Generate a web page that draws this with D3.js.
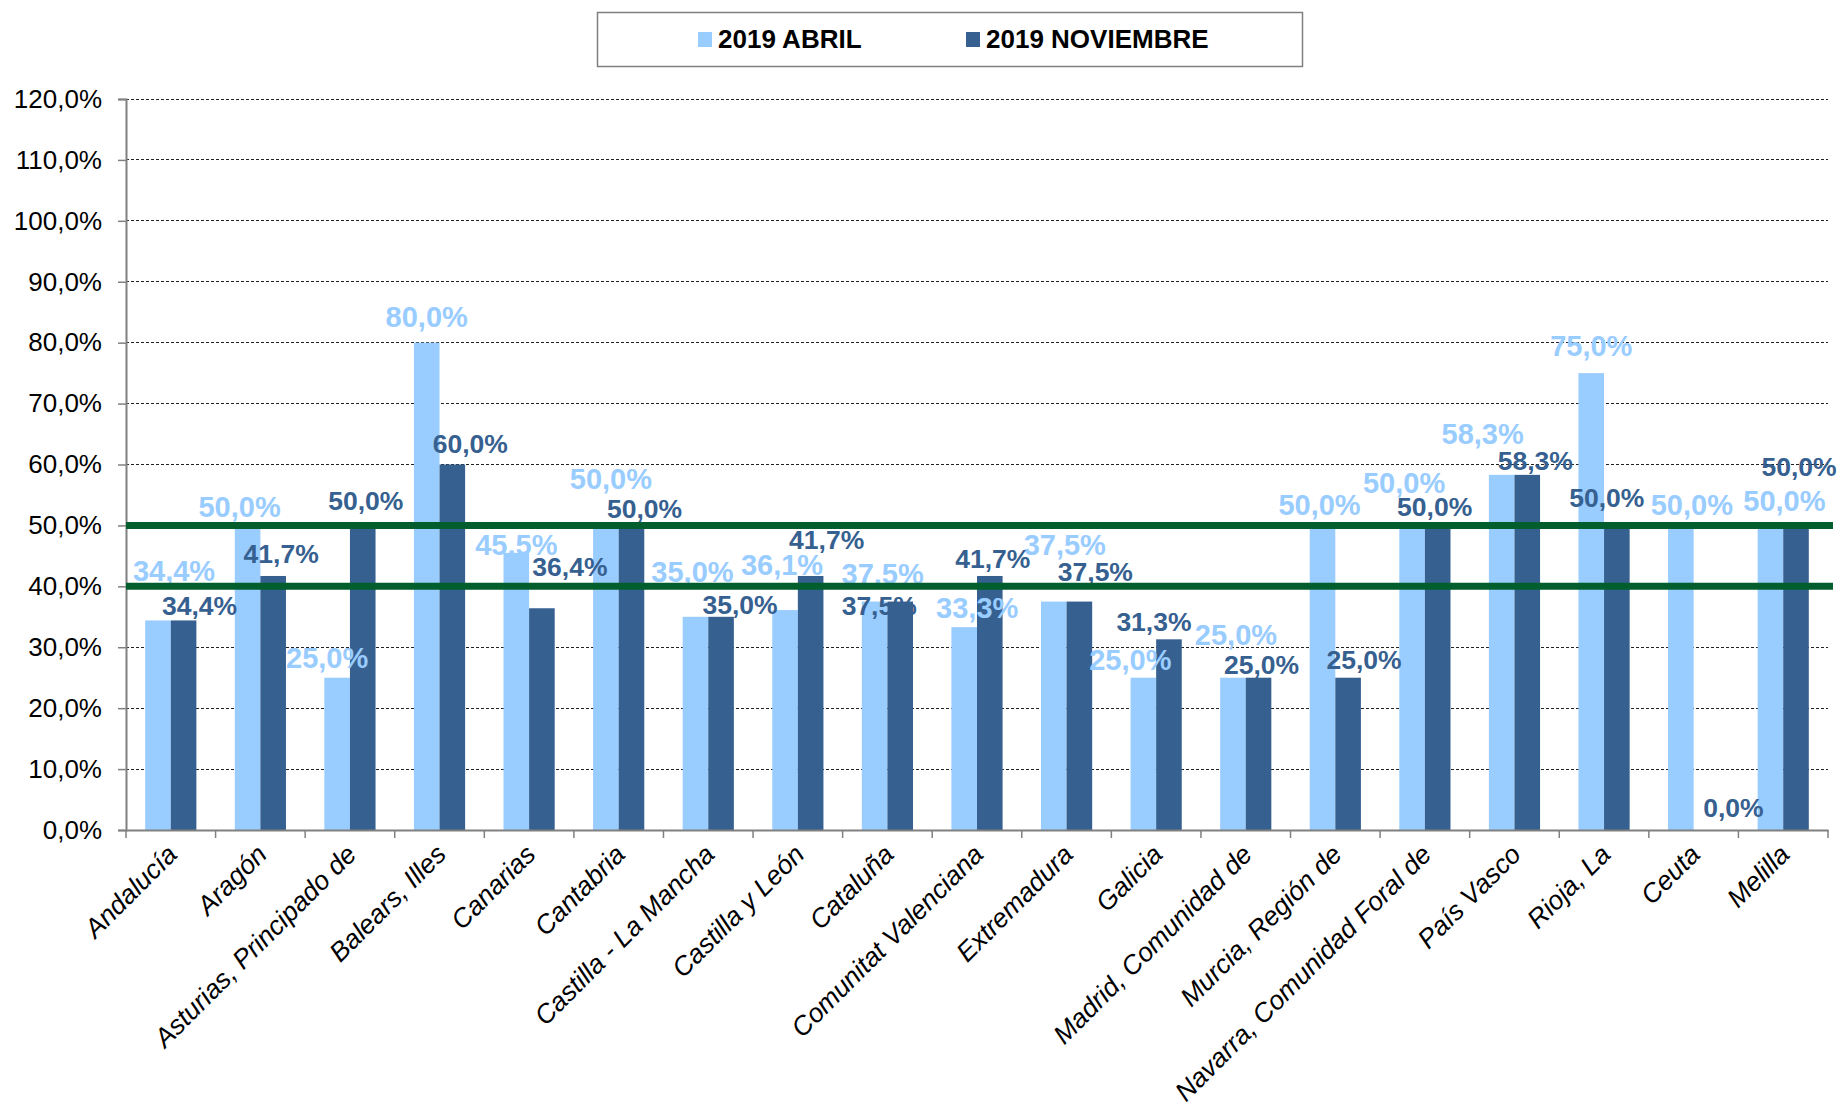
<!DOCTYPE html>
<html>
<head>
<meta charset="utf-8">
<script src="https://cdn.jsdelivr.net/npm/d3@7"></script>
<style>
  html, body { margin: 0; padding: 0; background: #fff; }
  svg { display: block; font-family: "Liberation Sans", Arial, sans-serif; }
</style>
</head>
<body>
<svg id="chart" width="1841" height="1109"></svg>
<script>
// ---- data ----
const categories = [
  "Andalucía", "Aragón", "Asturias, Principado de", "Balears, Illes", "Canarias",
  "Cantabria", "Castilla - La Mancha", "Castilla y León", "Cataluña",
  "Comunitat Valenciana", "Extremadura", "Galicia", "Madrid, Comunidad de",
  "Murcia, Región de", "Navarra, Comunidad Foral de", "País Vasco", "Rioja, La",
  "Ceuta", "Melilla"
];
const seriesNames = ["2019 ABRIL", "2019 NOVIEMBRE"];
const abril = [34.4, 50.0, 25.0, 80.0, 45.5, 50.0, 35.0, 36.1, 37.5, 33.3, 37.5, 25.0, 25.0, 50.0, 50.0, 58.3, 75.0, 50.0, 50.0];
const noviembre = [34.4, 41.7, 50.0, 60.0, 36.4, 50.0, 35.0, 41.7, 37.5, 41.7, 37.5, 31.3, 25.0, 25.0, 50.0, 58.3, 50.0, 0.0, 50.0];
const yTickValues = [0, 10, 20, 30, 40, 50, 60, 70, 80, 90, 100, 110, 120];
const referenceLines = [40, 50];

// ---- layout (label nudges relative to bar top/center, px) ----
const abrilNudge = [[16,-39],[-8,-8],[-10,-10],[0,-16],[0,2],[5,-36],[-3,-35],[-3,-35],[8,-18],[13,-9],[11,-47],[-13,-8],[3,-33],[-3,-10],[-8,-32],[-19,-31],[0,-17],[11,-10],[14,-14]];
const novNudge = [[16,-5],[8,-13],[3,-15],[18,-12],[28,-32],[13,-7],[19,-3],[16,-27],[-21,13],[3,-8],[16,-21],[-15,-8],[3,-4],[16,-9],[-3,-9],[8,-5],[-10,-18],[27,-13],[3,-49]];

const colors = ["#99CCFF", "#36608F"];
const margin = { left: 126, right: 1828, top: 99, bottom: 830 };

const svg = d3.select("#chart");

const x = d3.scaleBand().domain(categories).range([margin.left, margin.right]).paddingInner(0).paddingOuter(0);
const xSub = d3.scaleBand().domain([0, 1]).range([0, x.bandwidth()]).paddingInner(0).paddingOuter(0.75);
const y = d3.scaleLinear().domain([0, 120]).range([margin.bottom, margin.top]);

const fmt = v => d3.format(".1f")(v).replace(".", ",") + "%";

// gridlines
svg.append("g")
  .selectAll("line")
  .data(yTickValues.filter(d => d > 0))
  .join("line")
  .attr("x1", margin.left).attr("x2", margin.right)
  .attr("y1", d => y(d)).attr("y2", d => y(d))
  .attr("stroke", "#222").attr("stroke-width", 1)
  .attr("stroke-dasharray", "3,2")
  .attr("shape-rendering", "crispEdges");

// bars
const series = [abril, noviembre];
const nudges = [abrilNudge, novNudge];
series.forEach((vals, s) => {
  svg.append("g")
    .selectAll("rect")
    .data(vals)
    .join("rect")
    .attr("x", (d, i) => x(categories[i]) + xSub(s))
    .attr("width", xSub.bandwidth())
    .attr("y", d => y(d))
    .attr("height", d => y(0) - y(d))
    .attr("fill", colors[s]);
});

// y axis
const yAxis = svg.append("g")
  .attr("transform", `translate(${margin.left},0)`)
  .call(d3.axisLeft(y).tickValues(yTickValues).tickSize(8).tickPadding(16).tickFormat(fmt));
yAxis.select(".domain").attr("stroke", "#808080").attr("stroke-width", 2);
yAxis.selectAll(".tick line").attr("stroke", "#808080").attr("stroke-width", 1.5);
yAxis.selectAll(".tick text")
  .attr("font-family", "'Liberation Sans', Arial, sans-serif")
  .attr("font-size", 26).attr("fill", "#000");

// x axis
const xAxis = svg.append("g")
  .attr("transform", `translate(0,${margin.bottom})`)
  .call(d3.axisBottom(x).tickSize(0).tickFormat(""));
xAxis.select(".domain").attr("stroke", "#808080").attr("stroke-width", 2);
const boundaries = categories.map(c => x(c)).concat([margin.right]);
svg.append("g").selectAll("line").data(boundaries).join("line")
  .attr("x1", d => d).attr("x2", d => d)
  .attr("y1", margin.bottom).attr("y2", margin.bottom + 8)
  .attr("stroke", "#808080").attr("stroke-width", 1.5);

svg.append("g").selectAll("text").data(categories).join("text")
  .attr("transform", d => `translate(${x(d) + x.bandwidth() / 2 + 8},${margin.bottom + 26}) rotate(-45)`)
  .attr("text-anchor", "end")
  .attr("font-style", "italic")
  .attr("font-size", 26.5)
  .attr("fill", "#000")
  .text(d => d);

// value labels
series.forEach((vals, s) => {
  svg.append("g")
    .selectAll("text")
    .data(vals)
    .join("text")
    .attr("x", (d, i) => x(categories[i]) + xSub(s) + xSub.bandwidth() / 2 + nudges[s][i][0])
    .attr("y", (d, i) => y(d) + nudges[s][i][1])
    .attr("text-anchor", "middle")
    .attr("font-weight", "bold")
    .attr("font-size", s === 0 ? 29 : 26.5)
    .attr("fill", colors[s])
    .text(d => fmt(d));
});

// reference lines
svg.append("g").selectAll("line").data(referenceLines).join("line")
  .attr("x1", margin.left).attr("x2", margin.right + 5)
  .attr("y1", d => y(d)).attr("y2", d => y(d))
  .attr("stroke", "#025E2D").attr("stroke-width", 7);

// legend
const legend = svg.append("g");
legend.append("rect")
  .attr("x", 597.5).attr("y", 12.5).attr("width", 705).attr("height", 54)
  .attr("fill", "#fff").attr("stroke", "#808080").attr("stroke-width", 1.5);
const legendX = [698, 966];
seriesNames.forEach((name, s) => {
  legend.append("rect")
    .attr("x", legendX[s]).attr("y", 32).attr("width", 14).attr("height", 15)
    .attr("fill", colors[s]);
  legend.append("text")
    .attr("x", legendX[s] + 20).attr("y", 48)
    .attr("font-weight", "bold").attr("font-size", 26).attr("fill", "#000")
    .text(name);
});
</script>
</body>
</html>
